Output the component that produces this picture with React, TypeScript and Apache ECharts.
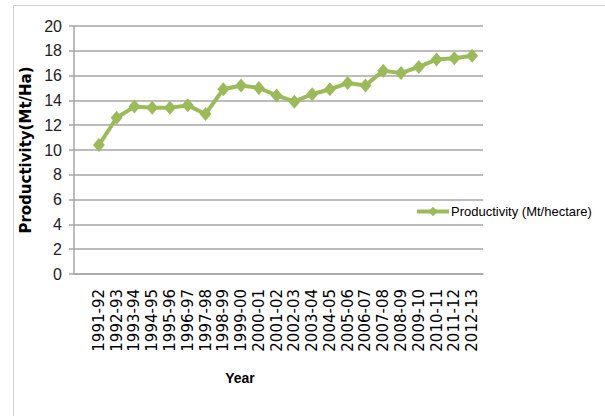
import React, { useEffect, useRef } from "react";
import * as echarts from "echarts";

const years = [
  "1991-92", "1992-93", "1993-94", "1994-95", "1995-96", "1996-97", "1997-98",
  "1998-99", "1999-00", "2000-01", "2001-02", "2002-03", "2003-04", "2004-05",
  "2005-06", "2006-07", "2007-08", "2008-09", "2009-10", "2010-11", "2011-12", "2012-13",
];
const productivity = [
  10.4, 12.6, 13.5, 13.4, 13.4, 13.6, 12.9,
  14.9, 15.2, 15.0, 14.4, 13.9, 14.5, 14.9,
  15.4, 15.2, 16.4, 16.2, 16.7, 17.3, 17.4, 17.6,
];
const seriesName = "Productivity (Mt/hectare)";
const yAxisTitle = "Productivity(Mt/Ha)";
const xAxisTitle = "Year";

const GREEN = "#9bbb59";
const GRID = "#a6a6a6";
const NARROW = "'Liberation Sans Narrow', 'Liberation Sans', sans-serif";

export default function App() {
  const ref = useRef<HTMLDivElement>(null);
  useEffect(() => {
    if (!ref.current) return;
    const chart = echarts.init(ref.current, undefined, { renderer: "svg" });
    chart.setOption({
      animation: false,
      backgroundColor: "#ffffff",
      graphic: [
        {
          type: "rect",
          shape: { x: 13.5, y: 5.5, width: 600, height: 420 },
          style: { fill: "none", stroke: "#d0d0d0", lineWidth: 1 },
          silent: true,
          z: -1,
        },
        {
          type: "text",
          x: 240,
          y: 378,
          style: {
            text: xAxisTitle,
            font: `bold 14px ${NARROW}`,
            fill: "#000000",
            align: "center",
            verticalAlign: "middle",
          },
        },
      ],
      legend: {
        show: true,
        data: [seriesName],
        left: 415,
        top: 205,
        itemWidth: 32,
        itemHeight: 12,
        itemGap: 2,
        lineStyle: { width: 4, color: GREEN },
        textStyle: { fontFamily: NARROW, fontSize: 13, color: "#000000", padding: [0, 0, 0, -3] },
        backgroundColor: "#ffffff",
        padding: [0, 2, 0, 0],
      },
      grid: [
        { left: 74, right: 122, top: 26, bottom: 142 },
        { left: 90, right: 124, top: 26, bottom: 142 },
      ],
      xAxis: [
        {
          type: "category",
          gridIndex: 0,
          data: years,
          axisLine: { show: true, lineStyle: { color: GRID, width: 1.5 } },
          axisTick: { show: false },
          axisLabel: { show: false },
        },
        {
          type: "category",
          gridIndex: 1,
          data: years,
          boundaryGap: true,
          axisLine: { show: false },
          axisTick: { show: false },
          axisLabel: {
            interval: 0,
            rotate: 90,
            margin: 15,
            fontFamily: "'DejaVu Sans', sans-serif",
            fontSize: 15,
            color: "#000000",
          },
        },
      ],
      yAxis: [
        {
          type: "value",
          gridIndex: 0,
          min: 0,
          max: 20,
          interval: 2,
          name: yAxisTitle,
          nameLocation: "middle",
          nameGap: 40,
          nameRotate: 90,
          nameTextStyle: {
            fontFamily: "'DejaVu Sans', sans-serif",
            fontWeight: "bold",
            fontSize: 15,
            color: "#000000",
          },
          axisLine: { show: true, lineStyle: { color: GRID, width: 1.5 } },
          axisTick: { show: true, length: 5, lineStyle: { color: GRID, width: 1.5 } },
          axisLabel: {
            margin: 12,
            fontFamily: NARROW,
            fontSize: 16,
            color: "#222222",
          },
          splitLine: { show: true, lineStyle: { color: GRID, width: 1.5 } },
        },
        {
          type: "value",
          gridIndex: 1,
          min: 0,
          max: 20,
          interval: 2,
          show: false,
          splitLine: { show: false },
        },
      ],
      series: [
        {
          name: seriesName,
          type: "line",
          xAxisIndex: 1,
          yAxisIndex: 1,
          data: productivity,
          symbol: "diamond",
          symbolSize: [12, 14],
          lineStyle: { color: GREEN, width: 4 },
          itemStyle: { color: GREEN },
        },
      ],
    });
    return () => chart.dispose();
  }, []);
  return (
    <div
      ref={ref}
      style={{ position: "absolute", left: 0, top: 0, width: 605, height: 416 }}
    />
  );
}
